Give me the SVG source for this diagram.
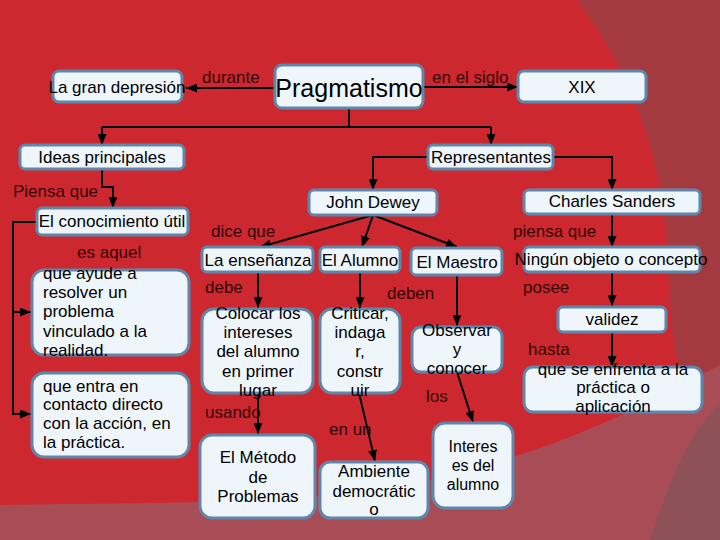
<svg xmlns="http://www.w3.org/2000/svg" width="720" height="540" viewBox="0 0 720 540">
<style>
.box{fill:#EEF6FC;stroke:#5F87AC;stroke-width:3}
.t{font-family:"Liberation Sans",Arial,sans-serif;font-size:17px;fill:#000}
.c{text-anchor:middle}
.lbl{font-family:"Liberation Sans",Arial,sans-serif;font-size:17px;fill:#330505}
.ln{fill:none;stroke:#000;stroke-width:2}
</style>
<defs>
<marker id="ah" markerUnits="userSpaceOnUse" markerWidth="11" markerHeight="9" refX="11" refY="4.5" orient="auto">
<path d="M0,0 L11,4.5 L0,9 Z" fill="#000"/>
</marker>
</defs>
<g id="background">
<rect x="0" y="0" width="720" height="540" fill="#CD282F"/>
<path d="M577,0 C630,70 665,160 668,260 C670,330 676,370 690,400 L720,400 L720,0 Z" fill="#A33A40"/>
<path d="M0,505 C150,502 300,506 420,482 C560,452 650,402 720,365 L720,540 L0,540 Z" fill="#A84D55"/>
<path d="M650,540 C670,480 690,430 720,405 L720,540 Z" fill="#8E5157"/>
</g>
<g id="connectors">
<path class="ln" d="M275,88 L186,88" marker-end="url(#ah)"/>
<path class="ln" d="M423,87 L518,87" marker-end="url(#ah)"/>
<path class="ln" d="M349,108 L349,127 M102,127 L491,127"/>
<path class="ln" d="M102,127 L102,145" marker-end="url(#ah)"/>
<path class="ln" d="M491,127 L491,145" marker-end="url(#ah)"/>
<path class="ln" d="M428,157 L373,157 L373,190" marker-end="url(#ah)"/>
<path class="ln" d="M553,157 L612,157 L612,190" marker-end="url(#ah)"/>
<path class="ln" d="M102,169 L102,187 L113,187 L113,208" marker-end="url(#ah)"/>
<path class="ln" d="M37,222 L13,222 L13,414 L31,414" marker-end="url(#ah)"/>
<path class="ln" d="M13,312 L31,312" marker-end="url(#ah)"/>
<path class="ln" d="M373,215 L260,247" marker-end="url(#ah)"/>
<path class="ln" d="M373,215 L362,247" marker-end="url(#ah)"/>
<path class="ln" d="M373,215 L457,247" marker-end="url(#ah)"/>
<path class="ln" d="M258,272 L258,308" marker-end="url(#ah)"/>
<path class="ln" d="M360,272 L360,308" marker-end="url(#ah)"/>
<path class="ln" d="M457,275 L457,326" marker-end="url(#ah)"/>
<path class="ln" d="M258,393 L258,434" marker-end="url(#ah)"/>
<path class="ln" d="M359,393 L375,461" marker-end="url(#ah)"/>
<path class="ln" d="M457,372 L473,422" marker-end="url(#ah)"/>
<path class="ln" d="M612,214 L612,247" marker-end="url(#ah)"/>
<path class="ln" d="M612,272 L612,306" marker-end="url(#ah)"/>
<path class="ln" d="M612,332 L612,367" marker-end="url(#ah)"/>
<text class="lbl" x="202" y="83">durante</text>
<text class="lbl" x="432" y="83">en el siglo</text>
<text class="lbl" x="13" y="197">Piensa que</text>
<text class="lbl" x="77" y="258">es aquel</text>
<text class="lbl" x="211" y="237">dice que</text>
<text class="lbl" x="205" y="293">debe</text>
<text class="lbl" x="387" y="299">deben</text>
<text class="lbl" x="205" y="418">usando</text>
<text class="lbl" x="329" y="435">en un</text>
<text class="lbl" x="426" y="402">los</text>
<text class="lbl" x="513" y="237">piensa que</text>
<text class="lbl" x="523" y="293">posee</text>
<text class="lbl" x="528" y="355">hasta</text>
</g>
<g id="n-depresion"><rect class="box" x="53" y="71" width="129" height="31" rx="6"/><text class="t c" x="117" y="93">La gran depresión</text></g>
<g id="n-pragmatismo"><rect class="box" x="275" y="65" width="148" height="43" rx="7"/><text class="t c" x="349" y="97" style="font-size:25px">Pragmatismo</text></g>
<g id="n-xix"><rect class="box" x="518" y="71" width="128" height="31" rx="6"/><text class="t c" x="582" y="93">XIX</text></g>
<g id="n-ideas"><rect class="box" x="20" y="145" width="164" height="24" rx="5"/><text class="t c" x="102" y="163">Ideas principales</text></g>
<g id="n-representantes"><rect class="box" x="428" y="145" width="125" height="24" rx="5"/><text class="t c" x="491" y="163">Representantes</text></g>
<g id="n-conocimiento"><rect class="box" x="37" y="208" width="151" height="27" rx="5"/><text class="t c" x="112" y="227">El conocimiento útil</text></g>
<g id="n-ayude"><rect class="box" x="32" y="270" width="157" height="85" rx="12"/><text class="t" x="43"><tspan x="43" y="279">que ayude a</tspan><tspan x="43" y="298">resolver un</tspan><tspan x="43" y="317">problema</tspan><tspan x="43" y="337">vinculado a la</tspan><tspan x="43" y="356">realidad.</tspan></text></g>
<g id="n-contacto"><rect class="box" x="32" y="373" width="157" height="84" rx="12"/><text class="t" x="43"><tspan x="43" y="392">que entra en</tspan><tspan x="43" y="410">contacto directo</tspan><tspan x="43" y="429">con la acción, en</tspan><tspan x="43" y="448">la práctica.</tspan></text></g>
<g id="n-dewey"><rect class="box" x="309" y="190" width="128" height="25" rx="5"/><text class="t c" x="373" y="208">John Dewey</text></g>
<g id="n-charles"><rect class="box" x="524" y="190" width="176" height="24" rx="5"/><text class="t c" x="612" y="207">Charles Sanders</text></g>
<g id="n-ensenanza"><rect class="box" x="202" y="247" width="111" height="25" rx="5"/><text class="t c" x="258" y="266">La enseñanza</text></g>
<g id="n-alumno"><rect class="box" x="320" y="247" width="80" height="25" rx="5"/><text class="t c" x="360" y="266">El Alumno</text></g>
<g id="n-maestro"><rect class="box" x="411" y="248" width="91" height="27" rx="5"/><text class="t c" x="457" y="268">El Maestro</text></g>
<g id="n-ningun"><rect class="box" x="524" y="247" width="176" height="25" rx="5"/><text class="t c" x="611" y="265">Ningún objeto o concepto</text></g>
<g id="n-validez"><rect class="box" x="558" y="307" width="108" height="25" rx="5"/><text class="t c" x="612" y="325">validez</text></g>
<g id="n-final"><rect class="box" x="524" y="367" width="178" height="45" rx="9"/><text class="t c"><tspan x="613" y="375">que se enfrenta a la</tspan><tspan x="613" y="393">práctica o</tspan><tspan x="613" y="412">aplicación</tspan></text></g>
<g id="n-colocar"><rect class="box" x="202" y="309" width="111" height="84" rx="12"/><text class="t c"><tspan x="258" y="319">Colocar los</tspan><tspan x="258" y="338">intereses</tspan><tspan x="258" y="357">del alumno</tspan><tspan x="258" y="377">en primer</tspan><tspan x="258" y="396">lugar</tspan></text></g>
<g id="n-criticar"><rect class="box" x="320" y="309" width="80" height="84" rx="12"/><text class="t c"><tspan x="360" y="319">Criticar,</tspan><tspan x="360" y="338">indaga</tspan><tspan x="360" y="357">r,</tspan><tspan x="360" y="377">constr</tspan><tspan x="360" y="396">uir</tspan></text></g>
<g id="n-observar"><rect class="box" x="412" y="327" width="90" height="45" rx="9"/><text class="t c"><tspan x="457" y="336">Observar</tspan><tspan x="457" y="355">y</tspan><tspan x="457" y="374">conocer</tspan></text></g>
<g id="n-metodo"><rect class="box" x="200" y="435" width="115" height="83" rx="12"/><text class="t c"><tspan x="258" y="463">El Método</tspan><tspan x="258" y="483">de</tspan><tspan x="258" y="502">Problemas</tspan></text></g>
<g id="n-ambiente"><rect class="box" x="320" y="462" width="108" height="56" rx="10"/><text class="t c"><tspan x="374" y="477">Ambiente</tspan><tspan x="374" y="497">democrátic</tspan><tspan x="374" y="515">o</tspan></text></g>
<g id="n-interes"><rect class="box" x="433" y="423" width="80" height="85" rx="12"/><text class="t c" style="font-size:16px"><tspan x="473" y="452">Interes</tspan><tspan x="473" y="471">es del</tspan><tspan x="473" y="490">alumno</tspan></text></g>
</svg>
